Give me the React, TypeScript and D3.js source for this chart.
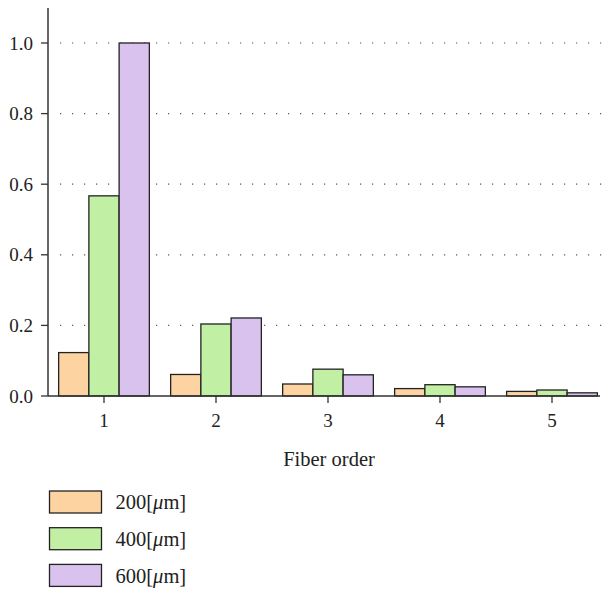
import React from "react";
import * as d3 from "d3";

const categories = ["1", "2", "3", "4", "5"];
const seriesNames = ["200[μm]", "400[μm]", "600[μm]"];
const s200 = [0.123, 0.061, 0.034, 0.021, 0.013];
const s400 = [0.567, 0.204, 0.076, 0.032, 0.017];
const s600 = [1.0, 0.221, 0.06, 0.026, 0.009];
const colors = ["#FDD3A1", "#C1EFA3", "#D9C3EE"];
const yTicks = [0, 0.2, 0.4, 0.6, 0.8, 1.0];
const xTitle = "Fiber order";

export default function App() {
  const W = 610, H = 590;
  const left = 48, right = 608, top = 8, bottom = 396;
  const series = [s200, s400, s600];
  const y = d3.scaleLinear().domain([0, 1]).range([bottom, 43]);
  const x = d3.scaleBand().domain(categories).range([left, right]).paddingInner(0.19).paddingOuter(0.095);
  const xs = d3.scaleBand().domain(seriesNames).range([0, x.bandwidth()]);
  const font = "'Liberation Serif', 'DejaVu Serif', serif";
  return (
    <svg width={W} height={H} style={{ position: "absolute", left: 0, top: 0 }} fontFamily={font}>
      {yTicks.filter(t => t > 0).map(t => (
        <line key={"g" + t} x1={60} x2={606} y1={y(t)} y2={y(t)} stroke="#555" strokeWidth={1.2} strokeDasharray="1.2 10.8" />
      ))}
      {categories.map((c, i) => (
        <g key={c}>
          {series.map((s, j) => (
            <rect key={j} x={(x(c) as number) + (xs(seriesNames[j]) as number)} y={y(s[i])}
              width={xs.bandwidth()} height={bottom - y(s[i])} fill={colors[j]} stroke="#222" strokeWidth={1.3} />
          ))}
        </g>
      ))}
      <line x1={left} x2={left} y1={top} y2={bottom} stroke="#333" strokeWidth={1.5} />
      <line x1={left} x2={600} y1={bottom} y2={bottom} stroke="#333" strokeWidth={1.5} />
      {yTicks.map(t => (
        <g key={"y" + t}>
          <line x1={41} x2={left} y1={y(t)} y2={y(t)} stroke="#333" strokeWidth={1.3} />
          <text x={33} y={y(t)} dy="0.35em" textAnchor="end" fontSize={19} fill="#222">{t.toFixed(1)}</text>
        </g>
      ))}
      {categories.map(c => {
        const cx = (x(c) as number) + x.bandwidth() / 2;
        return (
          <g key={"x" + c}>
            <line x1={cx} x2={cx} y1={bottom} y2={403} stroke="#333" strokeWidth={1.3} />
            <text x={cx} y={427} textAnchor="middle" fontSize={19} fill="#222">{c}</text>
          </g>
        );
      })}
      <text x={329} y={466} textAnchor="middle" fontSize={20.5} fill="#222">{xTitle}</text>
      {seriesNames.map((n, j) => (
        <g key={n} transform={`translate(49.5, ${491 + j * 36.7})`}>
          <rect x={0} y={0} width={52} height={22} fill={colors[j]} stroke="#222" strokeWidth={1.3} />
          <text x={66} y={11} dy="0.35em" fontSize={20.5} fill="#222">
            {n.split("μ")[0]}<tspan fontStyle="italic">μ</tspan>{n.split("μ")[1]}
          </text>
        </g>
      ))}
    </svg>
  );
}
